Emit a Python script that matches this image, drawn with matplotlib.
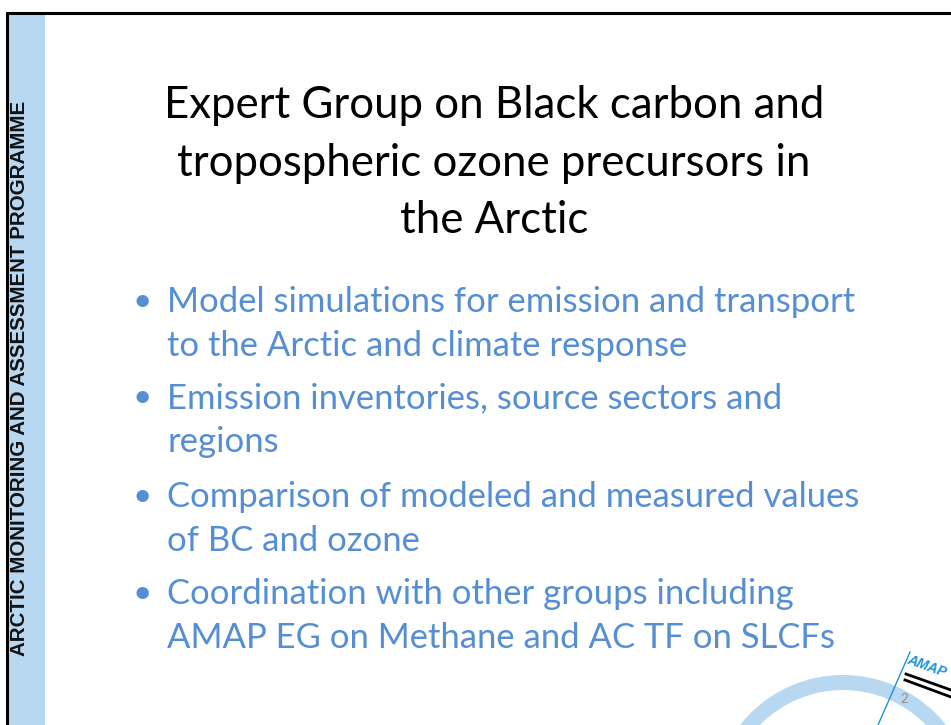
#slide.py

import matplotlib
matplotlib.use("Agg")
import matplotlib.pyplot as plt
from matplotlib.patches import Rectangle, Circle

#contenu de la diapositive
titre = ["Expert Group on Black carbon and",
         "tropospheric ozone precursors in",
         "the Arctic"]
titre_y = [105, 163, 220]

puces = [["Model simulations for emission and transport",
          "to the Arctic and climate response"],
         ["Emission inventories, source sectors and",
          "regions"],
         ["Comparison of modeled and measured values",
          "of BC and ozone"],
         ["Coordination with other groups including",
          "AMAP EG on Methane and AC TF on SLCFs"]]
puces_y = [302, 398, 497, 594]
interligne = 44

bandeau = "ARCTIC MONITORING AND ASSESSMENT PROGRAMME"
numero = "2"
logo = "AMAP"

bleu_texte = "#558ed5"
bleu_clair = "#b8d7f1"
bleu_logo = "#1a94d9"

fig = plt.figure(figsize=(9.51, 7.25), dpi=100)
ax = fig.add_axes([0, 0, 1, 1])
ax.set_xlim(0, 951)
ax.set_ylim(725, 0)
ax.axis("off")

#bandeau bleu a gauche + cadre noir
ax.add_patch(Rectangle((8, 13), 37, 712, color=bleu_clair, lw=0))
ax.plot([6, 951], [13, 13], color="black", lw=2.2, solid_capstyle="butt")
ax.plot([7, 7], [12, 725], color="black", lw=2.2, solid_capstyle="butt")
ax.text(20, 378, bandeau, rotation=90, ha="center", va="center",
        fontsize=14.8, fontweight="bold", family="Liberation Sans", color="#111111")

#titre
for ligne, y in zip(titre, titre_y):
    ax.text(494, y, ligne, ha="center", va="center", fontsize=31.5,
            family="Lato", color="black")

#puces
for bloc, y in zip(puces, puces_y):
    ax.text(142, y, "\u2022", ha="center", va="center", fontsize=24,
            family="Lato", color=bleu_texte)
    for k, ligne in enumerate(bloc):
        ax.text(167, y + k * interligne, ligne, ha="left", va="center",
                fontsize=24.9, family="Lato", color=bleu_texte)

#arc bleu clair en bas a droite
ax.add_patch(Circle((843, 806), 123.5, fill=False, ec=bleu_clair, lw=10.8))

#logo AMAP
ax.plot([910, 878], [652, 725], color=bleu_logo, lw=1)
ax.text(927, 666, logo, rotation=-20, ha="center", va="center", fontsize=10,
        fontweight="bold", fontstyle="italic", family="Liberation Sans", color=bleu_logo)
ax.plot([906, 951], [674, 690], color="black", lw=2)
ax.plot([905, 951], [680, 697], color="black", lw=2)
ax.text(904, 699, numero, ha="center", va="center", fontsize=9.5,
        family="Lato", color="#8c8c8c")

fig.savefig("out.png", dpi=100)
